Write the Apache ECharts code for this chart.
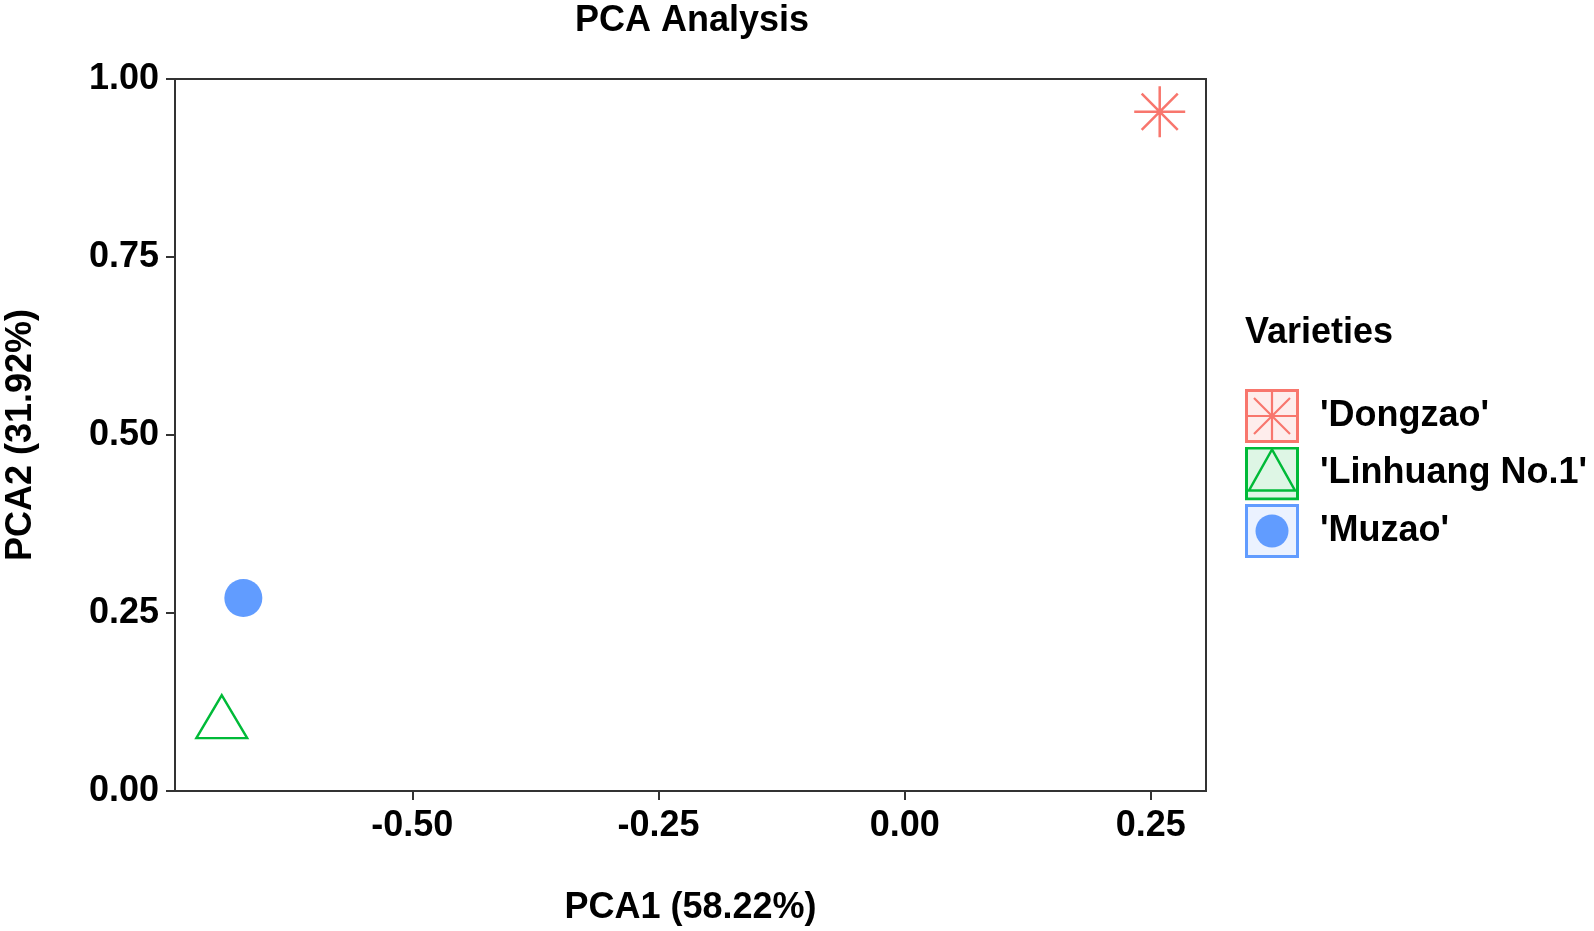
<!DOCTYPE html>
<html>
<head>
<meta charset="utf-8">
<script src="https://cdn.jsdelivr.net/npm/echarts@6/dist/echarts.min.js"></script>
<style>
  html, body { margin: 0; padding: 0; background: #fff; }
  #chart { width: 1594px; height: 931px; }
</style>
</head>
<body>
<div id="chart"></div>
<script>
// data
const varieties = ["'Dongzao'", "'Linhuang No.1'", "'Muzao'"];
const pca1 = [0.259, -0.6935, -0.6716];
const pca2 = [0.954, 0.1044, 0.271];
const colors = ["#F8766D", "#00BA38", "#619CFF"];
const xTicks = [-0.5, -0.25, 0, 0.25];
const yTicks = [0, 0.25, 0.5, 0.75, 1];

const FONT = "Liberation Sans, Arial, sans-serif";

// legend key boxes as small svg images
const svgUrl = (inner, c) =>
  "image://data:image/svg+xml;charset=utf-8," +
  encodeURIComponent(
    '<svg xmlns="http://www.w3.org/2000/svg" width="54" height="54" viewBox="0 0 54 54">' +
      '<rect x="1.5" y="1.5" width="51" height="51" fill="' + c + '" fill-opacity="0.13" stroke="' + c + '" stroke-width="3"/>' +
      inner +
      "</svg>"
  );

const keyIcons = [
  svgUrl(
    '<g stroke="#F8766D" stroke-width="2.2">' +
      '<line x1="27" y1="2" x2="27" y2="52"/><line x1="2" y1="27" x2="52" y2="27"/>' +
      '<line x1="9" y1="9" x2="45" y2="45"/><line x1="9" y1="45" x2="45" y2="9"/></g>',
    colors[0]
  ),
  svgUrl('<polygon points="27,3 4,44 50,44" fill="none" stroke="#00BA38" stroke-width="2.5"/>', colors[1]),
  svgUrl('<circle cx="27" cy="27" r="16.5" fill="#619CFF"/>', colors[2]),
];

const starPath =
  "path://M0,-10L0,10M-10,0L10,0M-7.07,-7.07L7.07,7.07M-7.07,7.07L7.07,-7.07";

const symbols = [starPath, "triangle", "circle"];
const sizes = [[51, 51], [51, 43], 38];

const chart = echarts.init(document.getElementById("chart"));

const axisText = { color: "#000", fontFamily: FONT, fontWeight: "bold", fontSize: 36 };
const nameText = { color: "#000", fontFamily: FONT, fontWeight: "bold", fontSize: 36 };

chart.setOption({
  animation: false,
  backgroundColor: "#fff",
  title: [
    {
      text: "PCA Analysis",
      left: 692,
      textAlign: "center",
      top: 3,
      padding: 0,
      textStyle: nameText,
    },
    {
      text: "Varieties",
      left: 1245,
      top: 315,
      padding: 0,
      textStyle: nameText,
    },
  ],
  legend: {
    orient: "vertical",
    left: 1245,
    top: 389,
    padding: 0,
    itemWidth: 54,
    itemHeight: 54,
    itemGap: 3.5,
    selectedMode: false,
    data: varieties.map((v, i) => ({ name: v, icon: keyIcons[i] })),
    textStyle: Object.assign({ padding: [8, 0, 0, 16] }, nameText),
  },
  grid: {
    left: 175,
    right: 388,
    top: 79,
    bottom: 140,
    outerBoundsMode: "none",
    containLabel: false,
    show: true,
    borderColor: "#333",
    borderWidth: 2,
  },
  xAxis: {
    type: "value",
    min: -0.741,
    max: 0.306,
    name: "PCA1 (58.22%)",
    nameLocation: "middle",
    nameGap: 99,
    nameTextStyle: nameText,
    axisLine: { show: true, onZero: false, lineStyle: { color: "#333", width: 2 } },
    axisTick: { show: true, length: 9, lineStyle: { color: "#333", width: 2 }, customValues: xTicks },
    axisLabel: Object.assign({ margin: 17, customValues: xTicks, formatter: (v) => v.toFixed(2) }, axisText),
    splitLine: { show: false },
  },
  yAxis: {
    type: "value",
    min: 0,
    max: 1,
    interval: 0.25,
    name: "PCA2 (31.92%)",
    nameLocation: "middle",
    nameGap: 136,
    nameTextStyle: nameText,
    axisLine: { show: true, onZero: false, lineStyle: { color: "#333", width: 2 } },
    axisTick: { show: true, length: 9, lineStyle: { color: "#333", width: 2 }, customValues: yTicks },
    axisLabel: Object.assign({ margin: 16, customValues: yTicks, formatter: (v) => v.toFixed(2) }, axisText),
    splitLine: { show: false },
  },
  series: varieties.map((v, i) => ({
    name: v,
    type: "scatter",
    symbol: symbols[i],
    symbolSize: sizes[i],
    data: [[pca1[i], pca2[i]]],
    itemStyle:
      i === 2
        ? { color: colors[i], opacity: 1 }
        : { color: "rgba(0,0,0,0)", borderColor: colors[i], borderWidth: i === 0 ? 2.5 : 2.3, opacity: 1 },
    emphasis: { disabled: true },
  })),
});
</script>
</body>
</html>
